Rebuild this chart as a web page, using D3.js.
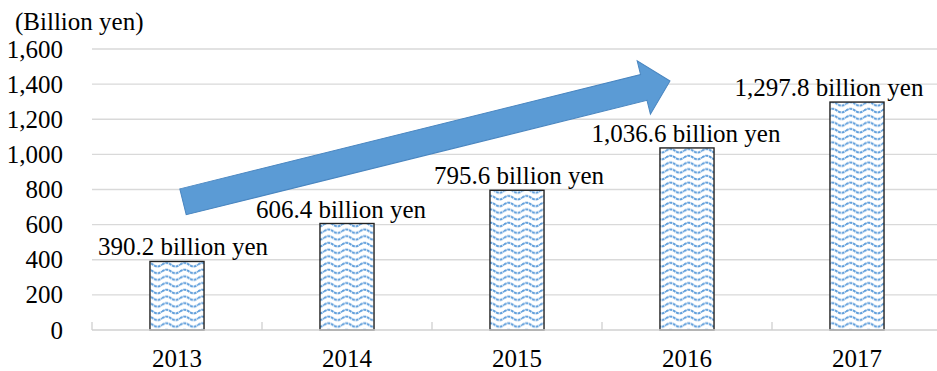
<!DOCTYPE html>
<html>
<head>
<meta charset="utf-8">
<script src="https://cdn.jsdelivr.net/npm/d3@7"></script>
<style>
  html, body { margin: 0; padding: 0; background: #fff; }
  svg { display: block; }
</style>
</head>
<body>
<svg id="chart" width="937" height="371"></svg>
<script>
// Annual amounts, billion yen
const years = ["2013", "2014", "2015", "2016", "2017"];
const amounts = [390.2, 606.4, 795.6, 1036.6, 1297.8];
const yTicks = [0, 200, 400, 600, 800, 1000, 1200, 1400, 1600];
const unitLabel = "(Billion yen)";
const valueSuffix = " billion yen";

// horizontal nudges for the value labels so the last one stays on the canvas
const labelShift = [6, -6, 2, -1, -28];

const plot = { left: 92, right: 942, top: 49, bottom: 330 };
const fontSize = 25;
const serif = "'Liberation Serif', 'Times New Roman', serif";

const svg = d3.select("#chart")
  .attr("font-family", serif)
  .attr("font-size", fontSize);

const x = d3.scaleBand().domain(years).range([plot.left, plot.right]).padding(0);
const y = d3.scaleLinear().domain([0, 1600]).range([plot.bottom, plot.top]);
const barW = x.bandwidth() * 0.318;

// wave fill for the bars
const defs = svg.append("defs");
const pat = defs.append("pattern")
  .attr("id", "wave")
  .attr("patternUnits", "userSpaceOnUse")
  .attr("width", 18)
  .attr("height", 6.7);
pat.append("rect").attr("width", 18).attr("height", 6.7).attr("fill", "#fff");
const wavePts = d3.range(0, 18.5, 0.5).map(t => [t, 3.4 - 1.8 * Math.sin(2 * Math.PI * t / 18)]);
pat.append("path")
  .attr("d", d3.line()(wavePts))
  .attr("fill", "none")
  .attr("stroke", "#5f9edb")
  .attr("stroke-width", 2)
  .attr("stroke-dasharray", "3 0.7");

// gridlines
svg.append("g")
  .selectAll("line")
  .data(yTicks.filter(d => d > 0))
  .join("line")
  .attr("x1", plot.left).attr("x2", plot.right)
  .attr("y1", d => y(d)).attr("y2", d => y(d))
  .attr("stroke", "#d9d9d9").attr("stroke-width", 1.3);

// y-axis labels
const yAxis = d3.axisLeft(y).tickValues(yTicks).tickFormat(d3.format(",")).tickSize(0).tickPadding(29);
const gy = svg.append("g").attr("transform", `translate(${plot.left},0)`).call(yAxis);
gy.attr("font-family", serif).attr("font-size", fontSize);
gy.select(".domain").remove();
gy.selectAll("text").attr("fill", "#000").attr("font-family", serif).attr("font-size", fontSize);

// unit label
svg.append("text")
  .attr("x", 15).attr("y", 30)
  .attr("font-family", serif).attr("font-size", fontSize)
  .attr("fill", "#000")
  .text(unitLabel);

// bars
svg.append("g")
  .selectAll("rect")
  .data(years.map((yr, i) => ({ yr, v: amounts[i] })))
  .join("rect")
  .attr("x", d => x(d.yr) + x.bandwidth() / 2 - barW / 2)
  .attr("y", d => y(d.v))
  .attr("width", barW)
  .attr("height", d => y(0) - y(d.v))
  .attr("fill", "url(#wave)")
  .attr("stroke", "#222")
  .attr("stroke-width", 1.4);

// category axis
const xAxis = d3.axisBottom(x).tickSize(0).tickPadding(0);
const gx = svg.append("g").attr("transform", `translate(0,${plot.bottom})`).call(xAxis);
gx.attr("font-family", serif).attr("font-size", fontSize);
gx.select(".domain").remove();
gx.selectAll("text")
  .attr("font-family", serif).attr("font-size", fontSize)
  .attr("fill", "#000")
  .attr("dy", null)
  .attr("y", 37);
svg.append("line")
  .attr("x1", plot.left).attr("x2", plot.right)
  .attr("y1", y(0)).attr("y2", y(0))
  .attr("stroke", "#d0d0d0").attr("stroke-width", 1.3);
svg.append("g")
  .selectAll("line")
  .data(years.map(yr => x(yr)))
  .join("line")
  .attr("x1", d => d).attr("x2", d => d)
  .attr("y1", y(0) - 8).attr("y2", y(0))
  .attr("stroke", "#d0d0d0").attr("stroke-width", 1.3);

// value labels
svg.append("g")
  .selectAll("text")
  .data(years.map((yr, i) => ({ yr, v: amounts[i], s: labelShift[i] })))
  .join("text")
  .attr("x", d => x(d.yr) + x.bandwidth() / 2 + d.s)
  .attr("y", d => y(d.v) - 6)
  .attr("text-anchor", "middle")
  .attr("font-family", serif).attr("font-size", fontSize)
  .attr("fill", "#000")
  .text(d => d3.format(",.1f")(d.v) + valueSuffix);

// growth arrow from above the first bar toward the top of the chart
const tail = [x(years[0]) + x.bandwidth() / 2 + 6, y(730)];
const tip = [x(years[3]) + x.bandwidth() / 2 - 17, y(1418)];
const len = Math.hypot(tip[0] - tail[0], tip[1] - tail[1]);
const ang = Math.atan2(tip[1] - tail[1], tip[0] - tail[0]) * 180 / Math.PI;
const shaftHalf = 13.3, headHalf = 27.5, headLen = 27;
const arrowShape = [
  [0, -shaftHalf], [len - headLen, -shaftHalf], [len - headLen, -headHalf],
  [len, 0],
  [len - headLen, headHalf], [len - headLen, shaftHalf], [0, shaftHalf]
];
svg.append("path")
  .attr("transform", `translate(${tail[0]},${tail[1]}) rotate(${ang})`)
  .attr("d", d3.line()(arrowShape) + "Z")
  .attr("fill", "#5b9bd5")
  .attr("stroke", "#4a86c0")
  .attr("stroke-width", 1);
</script>
</body>
</html>
